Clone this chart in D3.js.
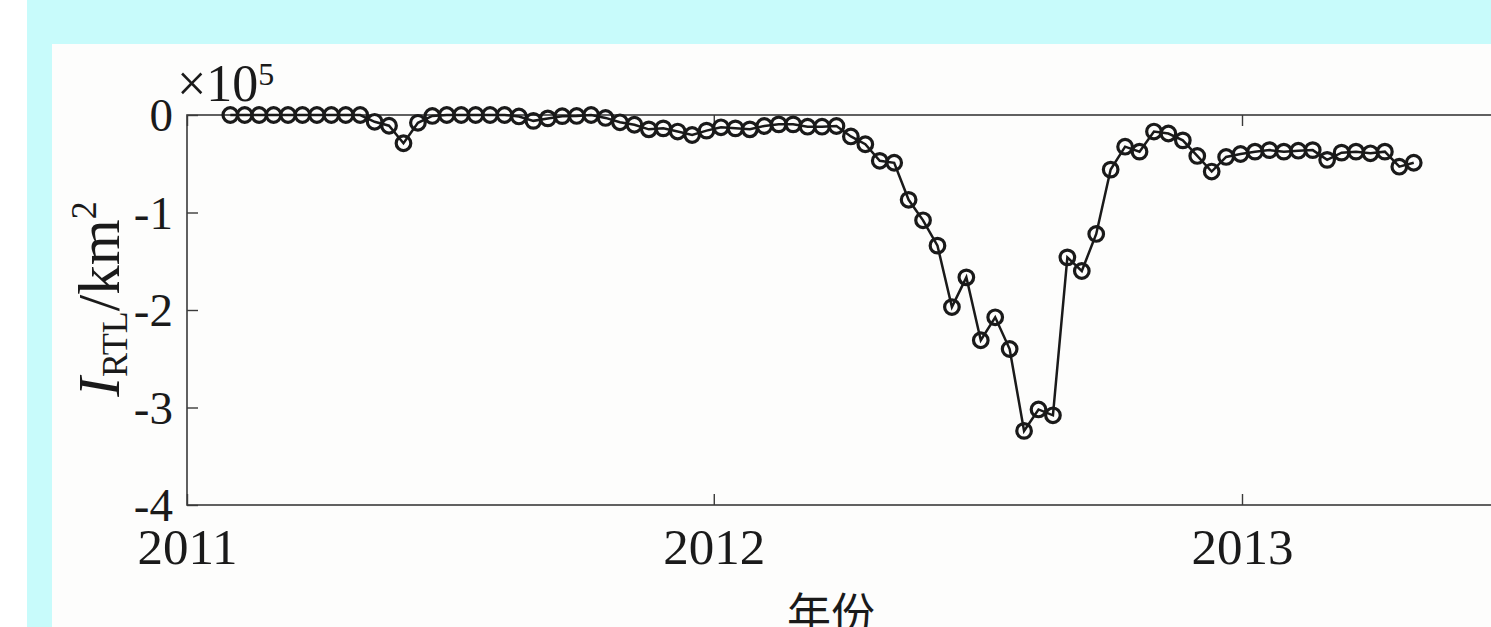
<!DOCTYPE html>
<html>
<head>
<meta charset="utf-8">
<script src="https://cdn.jsdelivr.net/npm/d3@7"></script>
<style>
  html, body { margin: 0; padding: 0; background: #ffffff; overflow: hidden; }
  svg { display: block; }
</style>
</head>
<body>
<svg id="chart" width="1491" height="627"></svg>
<script>
// Observation dates (10-day sampling)
const dates = [
  "2011-01-31","2011-02-10","2011-02-20","2011-03-02","2011-03-12","2011-03-22",
  "2011-04-01","2011-04-11","2011-04-21","2011-05-01","2011-05-11","2011-05-21",
  "2011-05-31","2011-06-10","2011-06-20","2011-06-30","2011-07-10","2011-07-20",
  "2011-07-30","2011-08-09","2011-08-19","2011-08-29","2011-09-08","2011-09-18",
  "2011-09-28","2011-10-08","2011-10-18","2011-10-28","2011-11-07","2011-11-17",
  "2011-11-27","2011-12-07","2011-12-17","2011-12-27","2012-01-06","2012-01-16",
  "2012-01-26","2012-02-05","2012-02-15","2012-02-25","2012-03-06","2012-03-16",
  "2012-03-26","2012-04-05","2012-04-15","2012-04-25","2012-05-05","2012-05-15",
  "2012-05-25","2012-06-04","2012-06-14","2012-06-24","2012-07-04","2012-07-14",
  "2012-07-24","2012-08-03","2012-08-13","2012-08-23","2012-09-02","2012-09-12",
  "2012-09-22","2012-10-02","2012-10-12","2012-10-22","2012-11-01","2012-11-11",
  "2012-11-21","2012-12-01","2012-12-11","2012-12-21","2012-12-31","2013-01-10",
  "2013-01-20","2013-01-30","2013-02-09","2013-02-19","2013-03-01","2013-03-11",
  "2013-03-21","2013-03-31","2013-04-10","2013-04-20","2013-04-30"
];

// I_RTL in units of 10^5 km^2
const irtl = [
   0.000,  0.000,  0.000,  0.000,  0.000,  0.000,
   0.000,  0.000,  0.000,  0.000, -0.070, -0.110,
  -0.290, -0.080, -0.010,  0.000,  0.000,  0.000,
   0.000,  0.000, -0.015, -0.060, -0.035, -0.012,
  -0.010,  0.000, -0.030, -0.075, -0.100, -0.147,
  -0.137, -0.170, -0.205, -0.160, -0.126, -0.137,
  -0.147, -0.113, -0.096, -0.096, -0.120, -0.120,
  -0.113, -0.220, -0.300, -0.470, -0.490, -0.870,
  -1.080, -1.340, -1.970, -1.665, -2.310, -2.075,
  -2.400, -3.240, -3.020, -3.080, -1.460, -1.600,
  -1.220, -0.560, -0.325, -0.376, -0.170, -0.190,
  -0.260, -0.420, -0.580, -0.430, -0.400, -0.376,
  -0.360, -0.376, -0.366, -0.360, -0.460, -0.386,
  -0.376, -0.393, -0.376, -0.530, -0.490
];

const yTicks = [0, -1, -2, -3, -4];
const xTickYears = ["2011-01-01", "2012-01-01", "2013-01-01"];
const xLabel = "年份";

const parse = d3.utcParse("%Y-%m-%d");
const data = dates.map((d, i) => ({ t: parse(d), v: irtl[i] }));

const svg = d3.select("#chart");
const serif = "'Liberation Serif', 'Times New Roman', serif";

// cyan page band and white figure panel
svg.append("rect")
  .attr("x", 27).attr("y", 0)
  .attr("width", 1491 - 27).attr("height", 627)
  .attr("fill", "#c8fbfb");
svg.append("rect")
  .attr("x", 52).attr("y", 44)
  .attr("width", 1491 - 52).attr("height", 627 - 44)
  .attr("fill", "#fdfdfc");

const plotLeft = 187, plotTop = 115, plotBottom = 505;
const pxPerDay = (1242 - 187) / 731;
const xStart = parse("2011-01-01");
const xEnd = parse("2013-07-01");
const plotRight = plotLeft + pxPerDay * d3.utcDay.count(xStart, xEnd);

const x = d3.scaleUtc().domain([xStart, xEnd]).range([plotLeft, plotRight]);
const y = d3.scaleLinear().domain([-4, 0]).range([plotBottom, plotTop]);

const axisColor = "#3a3a3a";
const tickLen = 11;

// axes box
svg.append("rect")
  .attr("x", plotLeft).attr("y", plotTop)
  .attr("width", plotRight - plotLeft).attr("height", plotBottom - plotTop)
  .attr("fill", "none").attr("stroke", axisColor).attr("stroke-width", 1.6);

const xTicks = xTickYears.map(parse);

// bottom axis (ticks point inward)
const gx = svg.append("g").attr("transform", `translate(0,${plotBottom})`)
  .call(d3.axisBottom(x).tickValues(xTicks).tickSizeInner(-tickLen).tickSizeOuter(0)
    .tickPadding(22).tickFormat(d3.utcFormat("%Y")));
gx.select(".domain").remove();
gx.selectAll(".tick line").attr("stroke", axisColor).attr("stroke-width", 1.4);
gx.selectAll(".tick text")
  .attr("fill", "#1a1a1a").attr("font-family", serif).attr("font-size", 51)
  .attr("dy", "0.72em");

// top mirror ticks
const gxt = svg.append("g").attr("transform", `translate(0,${plotTop})`)
  .call(d3.axisTop(x).tickValues(xTicks).tickSizeInner(-tickLen).tickSizeOuter(0).tickFormat(""));
gxt.select(".domain").remove();
gxt.selectAll(".tick line").attr("stroke", axisColor).attr("stroke-width", 1.4);

// left axis
const gy = svg.append("g").attr("transform", `translate(${plotLeft},0)`)
  .call(d3.axisLeft(y).tickValues(yTicks).tickSizeInner(-tickLen).tickSizeOuter(0)
    .tickPadding(14).tickFormat(d => d === 0 ? "0" : "-" + Math.abs(d)));
gy.select(".domain").remove();
gy.selectAll(".tick line").attr("stroke", axisColor).attr("stroke-width", 1.4);
gy.selectAll(".tick text")
  .attr("fill", "#1a1a1a").attr("font-family", serif).attr("font-size", 47)
  .attr("dy", "0.34em");

// exponent label
const exp = svg.append("text")
  .attr("x", 177).attr("y", 101)
  .attr("font-family", serif).attr("font-size", 52).attr("fill", "#1a1a1a");
exp.append("tspan").text("\u00d710");
exp.append("tspan").attr("font-size", 32).attr("dy", -16).text("5");

// y axis title
const yt = svg.append("text")
  .attr("transform", "translate(119,299) rotate(-90)")
  .attr("text-anchor", "middle")
  .attr("font-family", serif).attr("font-size", 59).attr("fill", "#1a1a1a");
yt.append("tspan").attr("font-style", "italic").text("I");
yt.append("tspan").attr("font-size", 36).attr("dy", 8).text("RTL");
yt.append("tspan").attr("dy", -8).text("/km");
yt.append("tspan").attr("font-size", 36).attr("dy", -23).text("2");

// x axis title
svg.append("text")
  .attr("x", 831).attr("y", 630)
  .attr("text-anchor", "middle")
  .attr("font-family", "'Noto Sans CJK SC', sans-serif").attr("font-size", 44)
  .attr("fill", "#1a1a1a")
  .text(xLabel);

// series line
const line = d3.line().x(d => x(d.t)).y(d => y(d.v));
svg.append("path")
  .datum(data)
  .attr("d", line)
  .attr("fill", "none").attr("stroke", "#1a1a1a").attr("stroke-width", 2.5);

// circle markers
svg.append("g").selectAll("circle")
  .data(data).join("circle")
  .attr("cx", d => x(d.t)).attr("cy", d => y(d.v))
  .attr("r", 7.3)
  .attr("fill", "none").attr("stroke", "#1a1a1a").attr("stroke-width", 3.2);
</script>
</body>
</html>
